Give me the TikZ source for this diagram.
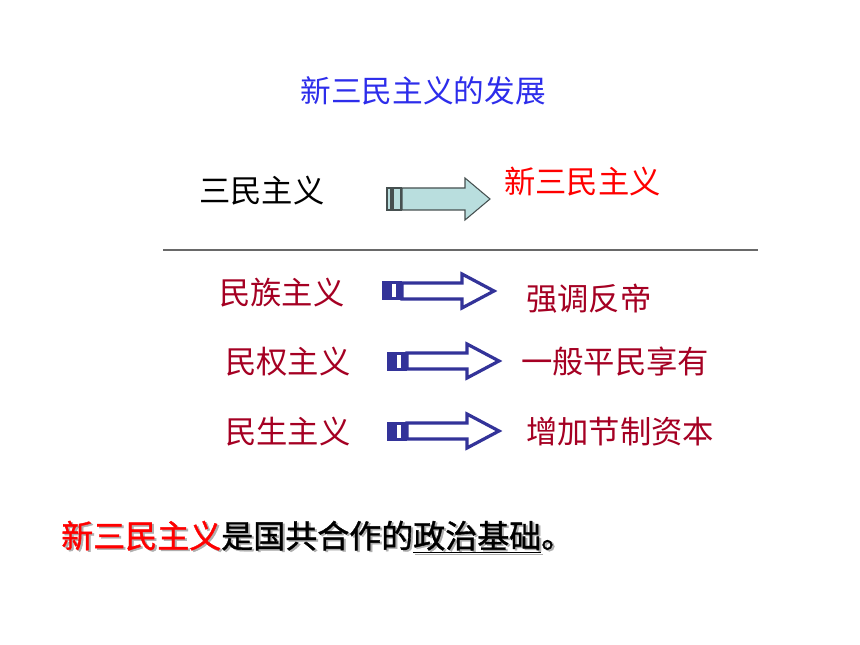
\documentclass[tikz,border=0pt]{standalone}
\usepackage{fontspec}
\newfontfamily\cjk{Noto Sans CJK SC}
\newfontfamily\cjkb[FakeBold=1.2]{Noto Sans CJK SC}
\definecolor{ttlblue}{RGB}{45,45,235}
\definecolor{rowred}{RGB}{165,0,35}
\definecolor{arrblue}{RGB}{51,51,153}
\definecolor{cyanfill}{RGB}{185,222,222}
\definecolor{cyanline}{RGB}{70,80,80}
\definecolor{shadowgray}{RGB}{175,175,175}
\definecolor{rulegray}{RGB}{105,105,105}
\tikzset{
  txt/.style={inner sep=0pt, font=\cjk\fontsize{23.5}{26}\selectfont},
  rowtxt/.style={txt, text=rowred},
  boldtxt/.style={inner sep=0pt, font=\cjkb\fontsize{24}{27}\selectfont},
  blockarrow/.pic={
    \fill[arrblue] (0,-9.5) rectangle (20,9.5);
    \fill[white] (10,-6.5) rectangle (13.5,6.5);
    \draw[arrblue, line width=2.4pt, fill=white, line join=miter]
      (20,-8) -- (80,-8) -- (80,-17) -- (112,0) -- (80,17) -- (80,8) -- (20,8) -- cycle;
  },
  cyanarrow/.pic={
    \draw[cyanline, fill=cyanfill, line width=0.8pt] (0,-11) rectangle (4,11);
    \draw[cyanline, fill=cyanfill, line width=0.8pt] (6,-11) rectangle (14,11);
    \draw[cyanline, fill=cyanfill, line width=0.8pt, line join=miter]
      (15,-11) -- (78,-11) -- (78,-21) -- (103,0) -- (78,21) -- (78,11) -- (15,11) -- cycle;
  }
}
\begin{document}
\begin{tikzpicture}[x=0.75pt, y=-0.75pt]
\useasboundingbox[fill=white] (0,0) rectangle (860,645);

\node[txt, font=\cjk\fontsize{23}{26}\selectfont, text=ttlblue] (title) at (423,91) {新三民主义的发展};

\node[txt, anchor=west] (old) at (199,191) {三民主义};
\pic at (387,199) {cyanarrow};
\node[txt, anchor=west, text=red] (new) at (504,182) {新三民主义};

\draw[line width=0.9pt, rulegray] (163,250) coordinate (ls) -- (758,250) coordinate (le);

\node[rowtxt, anchor=west] (r1a) at (219,293) {民族主义};
\pic at (382,291) {blockarrow};
\node[rowtxt, anchor=west] (r1b) at (526,299) {强调反帝};

\node[rowtxt, anchor=west] (r2a) at (225,362) {民权主义};
\pic at (387,361) {blockarrow};
\node[rowtxt, anchor=west] (r2b) at (521,362) {一般平民享有};

\node[rowtxt, anchor=west] (r3a) at (225,432) {民生主义};
\pic at (387,431) {blockarrow};
\node[rowtxt, anchor=west] (r3b) at (526,432) {增加节制资本};

\node[boldtxt, anchor=west, text=shadowgray] (shadow) at (63,538.5) {新三民主义是国共合作的\underline{政治基础}。};
\node[boldtxt, anchor=west] (basis) at (61,537) {\textcolor{red}{新三民主义}是国共合作的\underline{政治基础}。};
\end{tikzpicture}
\end{document}
